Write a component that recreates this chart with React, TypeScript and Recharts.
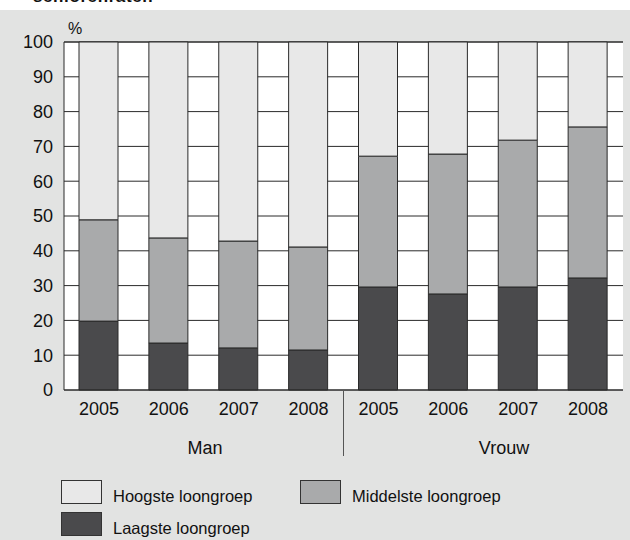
import React from "react";
import { BarChart, Bar, XAxis, YAxis, CartesianGrid } from "recharts";

const years = ["2005", "2006", "2007", "2008", "2005", "2006", "2007", "2008"];
const groups = ["Man", "Man", "Man", "Man", "Vrouw", "Vrouw", "Vrouw", "Vrouw"];
const laagste = [19.8, 13.5, 12.1, 11.5, 29.6, 27.6, 29.6, 32.2];
const middelste = [29.1, 30.2, 30.7, 29.6, 37.6, 40.2, 42.2, 43.4];
const hoogste = [51.1, 56.3, 57.2, 58.9, 32.8, 32.2, 28.2, 24.4];
const yTicks = [0, 10, 20, 30, 40, 50, 60, 70, 80, 90, 100];

const data = years.map((year, i) => ({
  key: `${groups[i]}-${year}`,
  year,
  laag: laagste[i],
  midden: middelste[i],
  hoog: hoogste[i],
}));

const FONT = "'Liberation Sans', Arial, Helvetica, sans-serif";
const BG = "#e2e3e2";
const DARK = "#4a4a4c";
const MID = "#a9aaab";
const LIGHT = "#e8e8e8";
const LINE = "#2a2a2a";

function LegendItem({ color, label, x, y }: { color: string; label: string; x: number; y: number }) {
  return (
    <div style={{ position: "absolute", left: x, top: y, display: "flex", alignItems: "center" }}>
      <div
        style={{
          width: 39,
          height: 22,
          background: color,
          border: "1px solid #333",
        }}
      />
      <span style={{ marginLeft: 11, marginTop: 10, fontSize: 16.5, color: "#111" }}>{label}</span>
    </div>
  );
}

export default function App() {
  return (
    <div
      style={{
        position: "absolute",
        left: 0,
        top: 0,
        width: 630,
        height: 540,
        background: "#fff",
        fontFamily: FONT,
        overflow: "hidden",
      }}
    >
      {/* title, cut off above the panel as in the source */}
      <div
        style={{
          position: "absolute",
          left: 33,
          top: -13,
          fontSize: 17,
          fontWeight: 700,
          color: "#111",
          letterSpacing: 0.6,
        }}
      >
        seniorenraten
      </div>
      <div style={{ position: "absolute", left: 0, top: 10, width: 630, height: 530, background: BG }} />

      <div style={{ position: "absolute", left: 0, top: 0 }}>
        <BarChart
          width={630}
          height={540}
          data={data}
          margin={{ top: 42, right: 7, bottom: 120, left: 0 }}
          barCategoryGap={0}
        >
          <CartesianGrid
            yAxisId="left"
            vertical={false}
            stroke={LINE}
            strokeWidth={1}
            fill="#ffffff"
            fillOpacity={1}
          />
          <XAxis
            dataKey="key"
            tickFormatter={(v: string) => v.split("-")[1]}
            axisLine={{ stroke: LINE }}
            tickLine={false}
            tickSize={0}
            tickMargin={12}
            height={30}
            interval={0}
            tick={{ fontSize: 18, fill: "#111", fontFamily: FONT }}
          />
          <YAxis
            yAxisId="left"
            domain={[0, 100]}
            ticks={yTicks}
            width={64}
            axisLine={{ stroke: LINE }}
            tickLine={false}
            tickSize={0}
            tickMargin={11}
            interval={0}
            tick={{ fontSize: 18, fill: "#111", fontFamily: FONT }}
          />
          <YAxis
            yAxisId="right"
            orientation="right"
            domain={[0, 100]}
            width={0}
            axisLine={{ stroke: LINE }}
            tick={false}
            tickLine={false}
          />
          <Bar yAxisId="left" dataKey="laag" stackId="s" barSize={39} fill={DARK} stroke={LINE} strokeWidth={1} isAnimationActive={false} />
          <Bar yAxisId="left" dataKey="midden" stackId="s" barSize={39} fill={MID} stroke={LINE} strokeWidth={1} isAnimationActive={false} />
          <Bar yAxisId="left" dataKey="hoog" stackId="s" barSize={39} fill={LIGHT} stroke={LINE} strokeWidth={1} isAnimationActive={false} />
        </BarChart>
      </div>

      <div style={{ position: "absolute", left: 68, top: 20, fontSize: 16, color: "#111" }}>%</div>

      {/* group labels and divider */}
      <div style={{ position: "absolute", left: 343, top: 391, width: 1, height: 65, background: "#555" }} />
      <div style={{ position: "absolute", left: 185, top: 438, width: 40, textAlign: "center", fontSize: 18, color: "#111" }}>
        Man
      </div>
      <div style={{ position: "absolute", left: 474, top: 438, width: 60, textAlign: "center", fontSize: 18, color: "#111" }}>
        Vrouw
      </div>

      <LegendItem color={LIGHT} label="Hoogste loongroep" x={61} y={477} />
      <LegendItem color={MID} label="Middelste loongroep" x={300} y={477} />
      <LegendItem color={DARK} label="Laagste loongroep" x={61} y={509} />
    </div>
  );
}
